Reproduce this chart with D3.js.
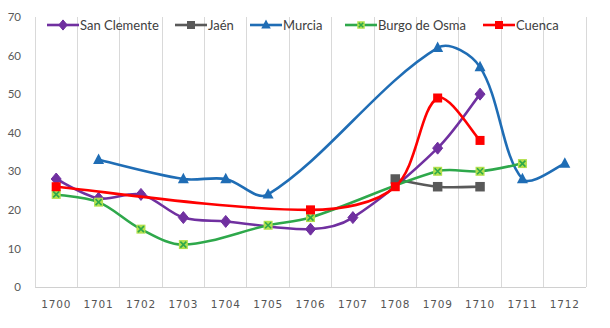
<!DOCTYPE html>
<html>
<head>
<meta charset="utf-8">
<script src="https://cdn.jsdelivr.net/npm/d3@7/dist/d3.min.js"></script>
<style>
  html, body { margin: 0; padding: 0; background: #ffffff; }
  svg { display: block; }
</style>
</head>
<body>
<svg id="chart" width="610" height="328"></svg>
<script>
// Years on the category axis
const years = [1700, 1701, 1702, 1703, 1704, 1705, 1706, 1707, 1708, 1709, 1710, 1711, 1712];

// Series values per year (null = no observation)
const sanClemente = [28, 23, 24, 18, 17, null, 15, 18, null, 36, 50, null, null];
const jaen        = [null, null, null, null, null, null, null, null, 28, 26, 26, null, null];
const murcia      = [null, 33, null, 28, 28, 24, null, null, null, 62, 57, 28, 32];
const burgoDeOsma = [24, 22, 15, 11, null, 16, 18, null, null, 30, 30, 32, null];
const cuenca      = [26, null, null, null, null, null, 20, null, 26, 49, 38, null, null];

const seriesNames = ["San Clemente", "Jaén", "Murcia", "Burgo de Osma", "Cuenca"];
const yTicks = [0, 10, 20, 30, 40, 50, 60, 70];

const seriesValues = [sanClemente, jaen, murcia, burgoDeOsma, cuenca];
const styles = [
  { color: "#7030A0", marker: "diamond" },
  { color: "#595959", marker: "square" },
  { color: "#1F6DB5", marker: "triangle" },
  { color: "#2EA84B", marker: "cross" },
  { color: "#FF0000", marker: "square" }
];

const svg = d3.select("#chart");
const plot = { left: 35, right: 586, top: 17, bottom: 287 };

const x = d3.scaleBand().domain(years).range([plot.left, plot.right]).padding(0);
const y = d3.scaleLinear().domain([0, 70]).range([plot.bottom, plot.top]);
const cx = yr => x(yr) + x.bandwidth() / 2;

// Vertical gridlines at category boundaries
const bounds = years.map(yr => x(yr)).concat([plot.right]);
svg.append("g").selectAll("line").data(bounds).join("line")
  .attr("x1", d => d).attr("x2", d => d)
  .attr("y1", plot.top).attr("y2", plot.bottom)
  .attr("stroke", "#d9d9d9").attr("stroke-width", 1)
  .attr("shape-rendering", "crispEdges");

// Axis lines
svg.append("line")
  .attr("x1", plot.left).attr("x2", plot.right)
  .attr("y1", plot.bottom).attr("y2", plot.bottom)
  .attr("stroke", "#d0d0d0").attr("shape-rendering", "crispEdges");

// Y axis labels
const yAxis = d3.axisLeft(y).tickValues(yTicks).tickSize(0).tickPadding(14);
const yg = svg.append("g").attr("transform", `translate(${plot.left},0)`).call(yAxis);
yg.select(".domain").attr("stroke", "#d9d9d9");
yg.selectAll("text")
  .attr("font-family", "Lato, 'Open Sans', sans-serif")
  .attr("font-size", 11.5)
  .attr("fill", "#595959");

// X axis labels
const xAxis = d3.axisBottom(x).tickSize(0).tickPadding(14);
const xg = svg.append("g").attr("transform", `translate(0,${plot.bottom})`).call(xAxis);
xg.select(".domain").remove();
xg.selectAll("text")
  .attr("font-family", "'DejaVu Sans', sans-serif")
  .attr("font-size", 10.5)
  .attr("letter-spacing", 0.8)
  .attr("fill", "#555555");

function drawMarker(g, type, color, px, py, s) {
  if (type === "diamond") {
    g.append("path")
      .attr("d", `M${px},${py - s * 0.6}L${px + s * 0.5},${py}L${px},${py + s * 0.6}L${px - s * 0.5},${py}Z`)
      .attr("fill", color).attr("stroke", color).attr("stroke-width", 1);
  } else if (type === "square") {
    g.append("rect")
      .attr("x", px - s / 2).attr("y", py - s / 2)
      .attr("width", s).attr("height", s)
      .attr("fill", color);
  } else if (type === "triangle") {
    const h = s * 0.95;
    g.append("path")
      .attr("d", `M${px},${py - h * 0.6}L${px + s / 2},${py + h * 0.4}L${px - s / 2},${py + h * 0.4}Z`)
      .attr("fill", color);
  } else if (type === "cross") {
    const r = s / 2;
    g.append("rect")
      .attr("x", px - r).attr("y", py - r)
      .attr("width", s).attr("height", s)
      .attr("fill", "#B2E04C");
    g.append("path")
      .attr("d", `M${px - r + 1.5},${py - r + 1.5}L${px + r - 1.5},${py + r - 1.5}M${px + r - 1.5},${py - r + 1.5}L${px - r + 1.5},${py + r - 1.5}`)
      .attr("stroke", color).attr("stroke-width", 1.6);
  }
}

const markerSize = { diamond: 10, square: 9.5, triangle: 11, cross: 9 };

// Smoothed Bezier path: tangents follow the neighbouring points and are
// scaled by the chord lengths on each side, so short segments next to
// long ones do not overshoot.
function smoothPath(pts) {
  const p = d3.path();
  const n = pts.length;
  if (!n) return "";
  p.moveTo(pts[0][0], pts[0][1]);
  const dist = (a, b) => Math.hypot(b[0] - a[0], b[1] - a[1]);
  const outCtrl = i => {
    if (i === 0) {
      return [pts[0][0] + (pts[1][0] - pts[0][0]) / 6, pts[0][1] + (pts[1][1] - pts[0][1]) / 6];
    }
    const din = dist(pts[i - 1], pts[i]), dout = dist(pts[i], pts[i + 1]);
    const s = dout / (3 * (din + dout));
    return [pts[i][0] + (pts[i + 1][0] - pts[i - 1][0]) * s, pts[i][1] + (pts[i + 1][1] - pts[i - 1][1]) * s];
  };
  const inCtrl = i => {
    if (i === n - 1) {
      return [pts[i][0] - (pts[i][0] - pts[i - 1][0]) / 6, pts[i][1] - (pts[i][1] - pts[i - 1][1]) / 6];
    }
    const din = dist(pts[i - 1], pts[i]), dout = dist(pts[i], pts[i + 1]);
    const s = din / (3 * (din + dout));
    return [pts[i][0] - (pts[i + 1][0] - pts[i - 1][0]) * s, pts[i][1] - (pts[i + 1][1] - pts[i - 1][1]) * s];
  };
  for (let i = 0; i < n - 1; i++) {
    const c1 = outCtrl(i), c2 = inCtrl(i + 1);
    p.bezierCurveTo(c1[0], c1[1], c2[0], c2[1], pts[i + 1][0], pts[i + 1][1]);
  }
  return p.toString();
}

seriesValues.forEach((vals, i) => {
  const st = styles[i];
  const pts = years.map((yr, j) => ({ year: yr, value: vals[j] })).filter(d => d.value !== null);
  const g = svg.append("g");
  g.append("path")
    .attr("d", smoothPath(pts.map(d => [cx(d.year), y(d.value)])))
    .attr("fill", "none")
    .attr("stroke", st.color)
    .attr("stroke-width", 2.6)
    .attr("stroke-linejoin", "round")
    .attr("stroke-linecap", "round");
  const size = (i === 4) ? 9 : markerSize[st.marker];
  pts.forEach(p => drawMarker(g, st.marker, st.color, cx(p.year), y(p.value), size));
});

// Legend
const legendX = [47, 175, 250, 345, 483];
const legendY = 25;
const legend = svg.append("g");
seriesNames.forEach((name, i) => {
  const st = styles[i];
  const g = legend.append("g");
  const x0 = legendX[i];
  g.append("line")
    .attr("x1", x0).attr("x2", x0 + 32)
    .attr("y1", legendY).attr("y2", legendY)
    .attr("stroke", st.color).attr("stroke-width", 2.6);
  const size = (i === 4) ? 8 : markerSize[st.marker] - 1.5;
  drawMarker(g, st.marker, st.color, x0 + 16, legendY, size);
  g.append("text")
    .attr("x", x0 + 33).attr("y", legendY).attr("dy", "0.36em")
    .attr("font-family", "Lato, 'Open Sans', sans-serif")
    .attr("font-size", 13)
    .attr("fill", "#404040")
    .text(name);
});
</script>
</body>
</html>
